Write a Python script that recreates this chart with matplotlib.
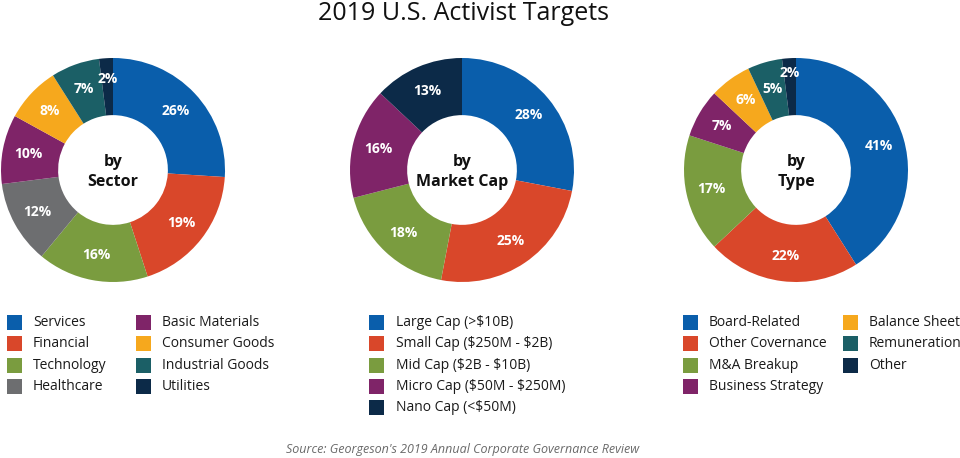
"""
Recreate the '2019 U.S. Activist Targets' donut chart trio.
"""

import numpy as np
import matplotlib.pyplot as plt
from matplotlib.patches import Rectangle

plt.rcParams['font.family'] = ['Open Sans', 'DejaVu Sans']
plt.rcParams['text.parse_math'] = False

W, H = 960, 458

BLUE = '#0a5eab'
RED = '#d9472a'
GREEN = '#7a9c3f'
GRAY = '#6d6e70'
PURPLE = '#7f2468'
ORANGE = '#f6a81d'
TEAL = '#1b5f66'
NAVY = '#0c2a48'

# by sector
sector_labels = ['Services', 'Financial', 'Technology', 'Healthcare',
                 'Basic Materials', 'Consumer Goods', 'Industrial Goods', 'Utilities']
sector_values = [26, 19, 16, 12, 10, 8, 7, 2]
sector_colors = [BLUE, RED, GREEN, GRAY, PURPLE, ORANGE, TEAL, NAVY]

# by market cap
cap_labels = ['Large Cap (>$10B)', 'Small Cap ($250M - $2B)', 'Mid Cap ($2B - $10B)',
              'Micro Cap ($50M - $250M)', 'Nano Cap (<$50M)']
cap_values = [28, 25, 18, 16, 13]
cap_colors = [BLUE, RED, GREEN, PURPLE, NAVY]

# by type
type_labels = ['Board-Related', 'Other Covernance', 'M&A Breakup', 'Business Strategy',
               'Balance Sheet', 'Remuneration', 'Other']
type_values = [41, 22, 17, 7, 6, 5, 2]
type_colors = [BLUE, RED, GREEN, PURPLE, ORANGE, TEAL, NAVY]


def fx(x):
    return x / W


def fy(y):
    return 1 - y / H


def donut(fig, cx, cy, r, values, colors, center_text, label_r=None):
    """Draw one donut centred at pixel (cx, cy) with outer radius r."""
    ax = fig.add_axes([fx(cx - r), fy(cy + r), 2 * r / W, 2 * r / H])
    wedges, _, pcts = ax.pie(
        values, colors=colors, startangle=90, counterclock=False,
        radius=1, wedgeprops=dict(width=0.51, linewidth=0),
        autopct=lambda p: f'{p:.0f}%', pctdistance=0.77,
        textprops=dict(color='white', fontsize=10, fontweight='bold'))
    # thin slices get their label pushed outwards
    if label_r:
        for i, rr in label_r.items():
            w = wedges[i]
            ang = np.deg2rad((w.theta1 + w.theta2) / 2)
            pcts[i].set_position((rr * np.cos(ang), rr * np.sin(ang)))
    ax.set_xlim(-1, 1)
    ax.set_ylim(-1, 1)
    ax.set_aspect('equal')
    ax.axis('off')
    ax.text(0, -0.02, center_text, ha='center', va='center', fontsize=11.5,
            fontweight='bold', color='#111111', linespacing=1.3)


def legend(fig, x, y0, labels, colors, text_dx, step=21.3):
    for i, (lab, c) in enumerate(zip(labels, colors)):
        y = y0 + i * step
        fig.add_artist(Rectangle((fx(x), fy(y + 7.5)), 15 / W, 15 / H,
                                 transform=fig.transFigure, color=c, lw=0))
        fig.text(fx(x + text_dx), fy(y), lab, ha='left', va='center',
                 fontsize=10, color='#1a1a1a')


fig = plt.figure(figsize=(W / 100, H / 100), dpi=100)
fig.patch.set_facecolor('white')

fig.text(fx(463), fy(13), '2019 U.S. Activist Targets', ha='center', va='center',
         fontsize=18, color='#111111')

donut(fig, 113, 170, 112, sector_values, sector_colors, 'by\nSector',
      label_r={7: 0.81})
donut(fig, 462, 170, 112, cap_values, cap_colors, 'by\nMarket Cap')
donut(fig, 796, 170, 112, type_values, type_colors, 'by\nType',
      label_r={6: 0.87, 5: 0.75})

legend(fig, 7, 322.5, sector_labels[:4], sector_colors[:4], 26)
legend(fig, 136, 322.5, sector_labels[4:], sector_colors[4:], 26)
legend(fig, 369, 322.5, cap_labels, cap_colors, 27)
legend(fig, 683, 322.5, type_labels[:4], type_colors[:4], 26)
legend(fig, 843, 322.5, type_labels[4:], type_colors[4:], 26)

fig.text(fx(463), fy(450), "Source: Georgeson's 2019 Annual Corporate Governance Review",
         ha='center', va='center', fontsize=9, style='italic', color='#6a6a6a')

fig.savefig('out.png', dpi=100)
